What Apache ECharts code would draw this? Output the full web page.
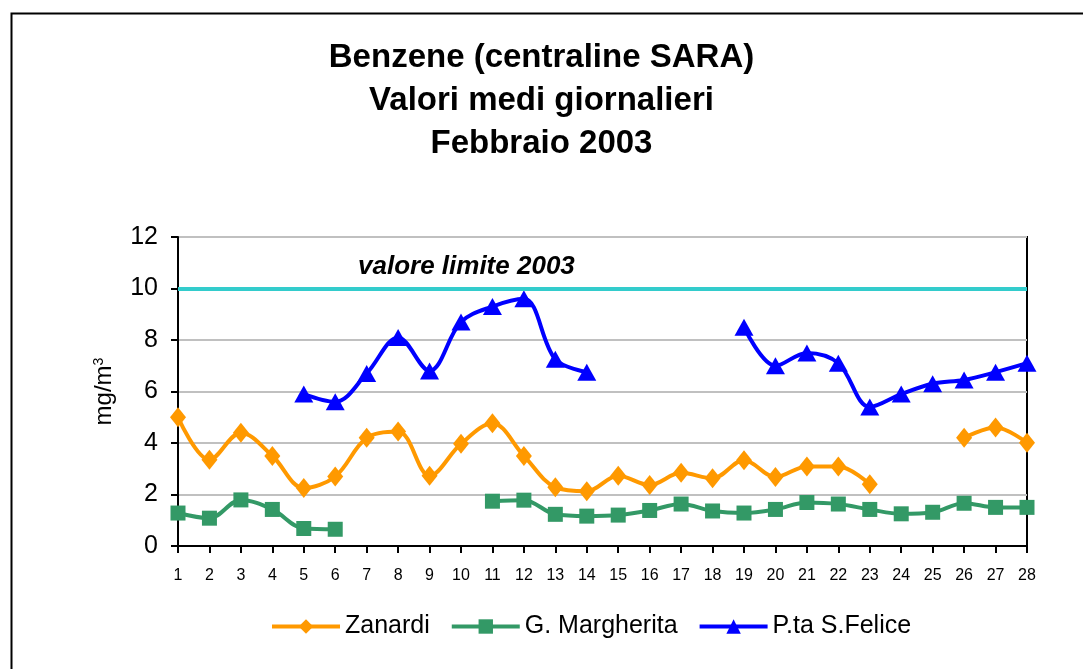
<!DOCTYPE html>
<html>
<head>
<meta charset="utf-8">
<script src="https://cdn.jsdelivr.net/npm/echarts@6/dist/echarts.min.js"></script>
<style>html,body{margin:0;padding:0;background:#fff;}#c{width:1083px;height:669px;}</style>
</head>
<body>
<div id="c"></div>
<script>
var days = ['1','2','3','4','5','6','7','8','9','10','11','12','13','14','15','16','17','18','19','20','21','22','23','24','25','26','27','28'];
var zanardi = [5.0,3.35,4.4,3.5,2.25,2.7,4.2,4.45,2.73,3.97,4.77,3.5,2.28,2.13,2.73,2.37,2.84,2.63,3.33,2.68,3.09,3.09,2.4,null,null,4.2,4.6,4.01];
var margherita = [1.28,1.08,1.79,1.42,0.68,0.65,null,null,null,null,1.74,1.78,1.23,1.16,1.2,1.38,1.63,1.36,1.28,1.42,1.69,1.63,1.42,1.25,1.31,1.66,1.5,1.5];
var felice = [null,null,null,null,5.9,5.6,6.7,8.1,6.8,8.7,9.3,9.6,7.25,6.75,null,null,null,null,8.5,7.0,7.5,7.1,5.4,5.9,6.3,6.45,6.75,7.1];
var limite = 10;
var yTicks = {min:0, max:12, interval:2};
var FONT = '"Liberation Sans", Arial, sans-serif';

var chart = echarts.init(document.getElementById('c'), null, {renderer:'canvas'});
chart.setOption({
  animation:false,
  backgroundColor:'#fff',
  textStyle:{fontFamily:FONT},
  graphic:[{type:'rect', left:9, top:11, shape:{width:2000,height:2000}, style:{fill:'none', stroke:'#000', lineWidth:2}, z:-1}],
  title:{
    text:'Benzene (centraline SARA)\nValori medi giornalieri\nFebbraio 2003',
    left:'center', top:31,
    textStyle:{fontFamily:FONT, fontWeight:'bold', fontSize:33, lineHeight:43, color:'#000'}
  },
  legend:{
    top:609, left:265,
    itemWidth:68, itemHeight:18, itemGap:20,
    lineStyle:{width:4},
    textStyle:{fontFamily:FONT, fontSize:25, color:'#000'},
    data:['Zanardi','G. Margherita','P.ta S.Felice']
  },
  grid:{left:178, right:56, top:237, bottom:123, show:true, borderColor:'#000', borderWidth:2, backgroundColor:'transparent'},
  xAxis:{
    type:'category', data:days, boundaryGap:false,
    axisLine:{lineStyle:{color:'#000', width:2}},
    axisTick:{show:true, length:7, lineStyle:{color:'#000', width:2}},
    axisLabel:{fontFamily:FONT, fontSize:16, color:'#000', margin:22, interval:0},
    splitLine:{show:false}
  },
  yAxis:{
    type:'value', min:yTicks.min, max:yTicks.max, interval:yTicks.interval,
    name:'mg/m{sup|3}', nameLocation:'middle', nameGap:62, nameRotate:90,
    nameTextStyle:{fontFamily:FONT, fontSize:24, color:'#000',
      rich:{sup:{fontFamily:FONT, fontSize:14, color:'#000', verticalAlign:'top', padding:[0,0,10,0]}}},
    axisLine:{show:true, lineStyle:{color:'#000', width:2}},
    axisTick:{show:true, length:7, lineStyle:{color:'#000', width:2}},
    axisLabel:{fontFamily:FONT, fontSize:25, color:'#000', margin:20},
    splitLine:{show:true, lineStyle:{color:'#c0c0c0', width:2}}
  },
  series:[
    {name:'Zanardi', type:'line', data:zanardi, smooth:0.35, connectNulls:false,
     symbol:'diamond', symbolSize:[16,20], lineStyle:{color:'#FF9900', width:4}, itemStyle:{color:'#FF9900'},
     markLine:{silent:true, symbol:'none',
       lineStyle:{color:'#33CCCC', width:4, type:'solid'},
       label:{show:true, position:'insideStartTop', formatter:'valore limite 2003', fontFamily:FONT, fontSize:26, fontWeight:'bold', fontStyle:'italic', color:'#000', distance:[180,9]},
       data:[{yAxis:limite}]}
    },
    {name:'G. Margherita', type:'line', data:margherita, smooth:0.35, connectNulls:false,
     symbol:'rect', symbolSize:15, lineStyle:{color:'#339966', width:4}, itemStyle:{color:'#339966'}},
    {name:'P.ta S.Felice', type:'line', data:felice, smooth:0.35, connectNulls:false,
     symbol:'triangle', symbolSize:[19,17], lineStyle:{color:'#0000FF', width:4}, itemStyle:{color:'#0000FF'}}
  ]
});
</script>
</body>
</html>
